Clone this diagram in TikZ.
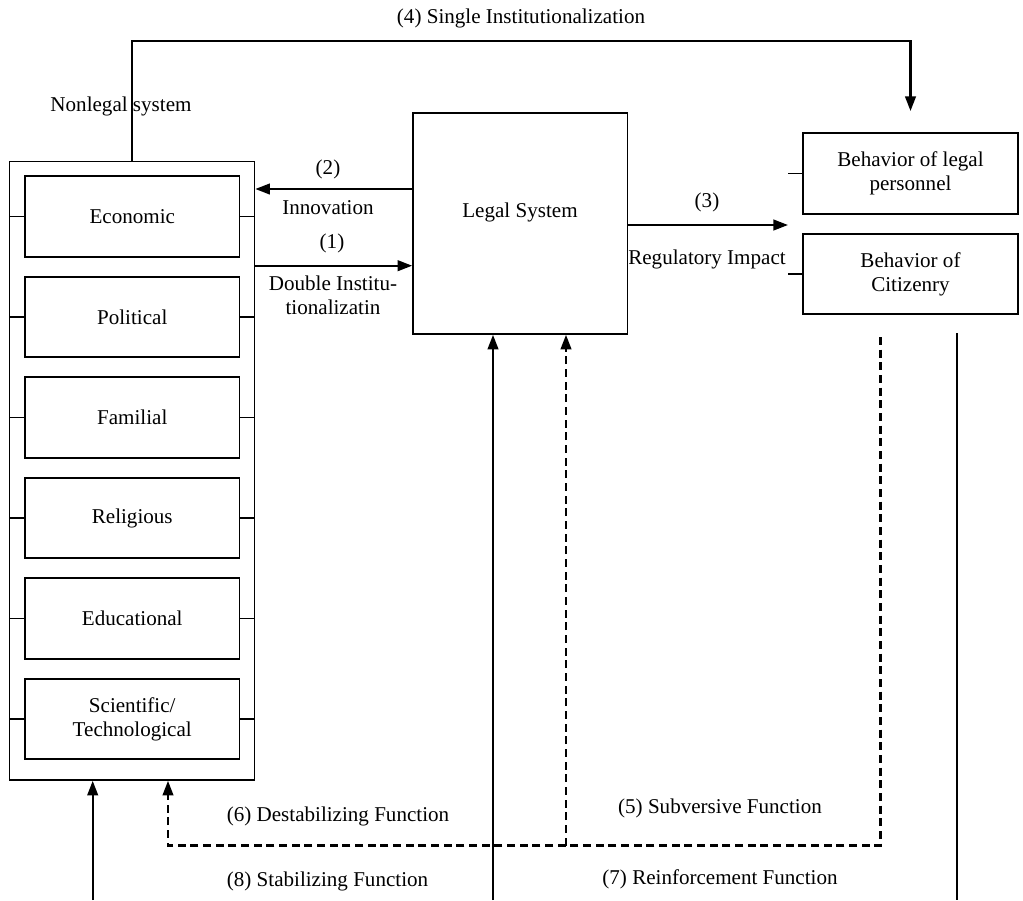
\documentclass[tikz,border=0pt]{standalone}
\usepackage{fontspec}
\setmainfont{Liberation Serif}
\usetikzlibrary{arrows.meta}

\tikzset{
  sysbox/.style={draw, line width=1.2pt, inner sep=0pt, align=center},
  subbox/.style={sysbox, minimum width=160.9pt, minimum height=60.4pt},
  link/.style={line width=1.7pt, -{Triangle[length=11pt,width=8pt]}},
  dlink/.style={link, dash pattern=on 6pt off 3.5pt},
  tick/.style={line width=1.2pt},
  lbl/.style={inner sep=0pt, align=center},
}

\begin{document}
\begin{tikzpicture}[x=0.75pt,y=0.75pt,yscale=-1,xscale=1,
  every node/.style={font=\fontsize{15.8}{18}\selectfont}]
	\useasboundingbox (0,0) rectangle (1023,900);

	% Nonlegal system
	\node[sysbox, minimum width=183.75pt, minimum height=463.9pt] (nonlegal) at (132,470.75) {};
	\node[lbl] (nonlegaltxt) at (121,106) {Nonlegal system};
	\foreach \name/\txt [count=\i from 0] in {econ/Economic, pol/Political, fam/Familial, rel/Religious, edu/Educational, sci/{Scientific/\\Technological}} {
		\node[subbox] (\name) at (132.25,216.5+100.5*\i) {\txt};
		\draw[tick] (\name.west) -- (\name.west -| nonlegal.west);
		\draw[tick] (\name.east) -- (\name.east -| nonlegal.east);
	}

	% Legal system
	\node[sysbox, minimum width=160.9pt, minimum height=165.75pt] (legal) at (520.25,223.5) {};
	\node[lbl] (legaltxt) at (520,212) {Legal System};

	% Behavior boxes
	\node[subbox] (personnel) at (910.5,173.5) {Behavior of legal\\personnel};
	\node[subbox] (citizen) at (910.5,274) {Behavior of\\Citizenry};
	\draw[tick] (personnel.west) -- ++(-14,0);
	\draw[tick] (citizen.west) -- ++(-14,0);

	%Straight Lines
	\coordinate (y2) at (0,189);
	\coordinate (y1) at (0,265.7);
	\coordinate (reg) at (788,225);
	\coordinate (top4) at (910.5,40.7);
	\coordinate (tip4) at (910.5,111);
	\draw[link] (legal.west |- y2) -- (nonlegal.east |- y2);
	\draw[link] (nonlegal.east |- y1) -- (legal.west |- y1);
	\draw[link] (legal.east |- reg) -- (reg);
	\draw[link] (nonlegal.north) |- (top4) -- (tip4);

	%Straight Lines
	\coordinate (stab) at (92.7,900);
	\coordinate (reinf) at (493,900);
	\coordinate (sub) at (880.5,337);
	\coordinate (destab) at (168,845.5);
	\coordinate (subv) at (566,845.5);
	\coordinate (reinftop) at (957,333);
	\coordinate (reinfbot) at (957,900);
	\draw[link] (stab) -- (stab |- nonlegal.south);
	\draw[link] (reinf) -- (reinf |- legal.south);
	\draw[dlink] (sub) |- (destab) -- (destab |- nonlegal.south);
	\draw[dlink] (subv) -- (subv |- legal.south);
	\draw[line width=1.7pt] (reinftop) -- (reinfbot);

	% Text Node
	\node[lbl] (lbl2) at (328,169) {(2)};
	\node[lbl] (lbl2b) at (328,208) {Innovation};
	\node[lbl] (lbl1) at (332,243) {(1)};
	\node[lbl] (lbl1b) at (333,295) {Double Institu-\\tionalizatin};
	\node[lbl] (lbl3) at (707,202) {(3)};
	\node[lbl] (lbl3b) at (707,259) {Regulatory Impact};
	\node[lbl] (lbl4) at (521,18) {(4) Single Institutionalization};
	\node[lbl] (lbl5) at (720,808) {(5) Subversive Function};
	\node[lbl] (lbl6) at (338,816) {(6) Destabilizing Function};
	\node[lbl] (lbl7) at (720,879) {(7) Reinforcement Function};
	\node[lbl] (lbl8) at (327.5,881) {(8) Stabilizing Function};

\end{tikzpicture}
\end{document}
